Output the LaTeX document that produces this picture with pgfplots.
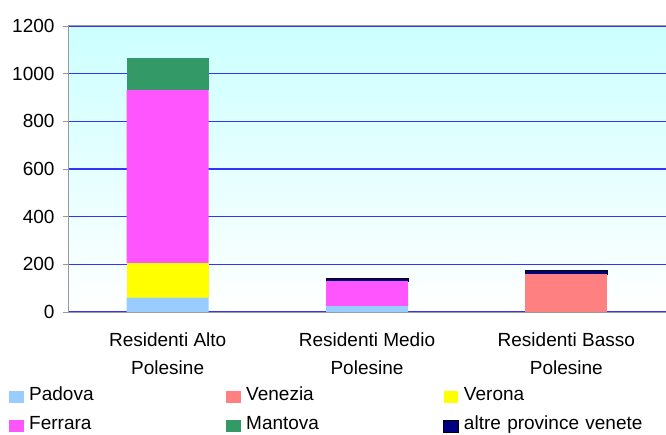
\documentclass[border=0pt]{standalone}
\usepackage{pgfplots}
\pgfplotsset{compat=1.18}
\usepackage{fontspec}
\setmainfont{Liberation Sans}
\definecolor{cPad}{HTML}{99CCFF}
\definecolor{cVen}{HTML}{FF8080}
\definecolor{cVer}{HTML}{FFFF00}
\definecolor{cFer}{HTML}{FF55FF}
\definecolor{cMan}{HTML}{339966}
\definecolor{cAlt}{HTML}{000080}
\definecolor{cGrid}{HTML}{3333FF}
\definecolor{cBgTop}{HTML}{CCFFFF}
\definecolor{cAxis}{HTML}{999999}
\begin{document}
\begin{tikzpicture}
\path[use as bounding box] (0,0) rectangle (666pt,434pt);
\begin{axis}[
  at={(68pt,122pt)}, anchor=south west,
  scale only axis, width=598pt, height=286pt,
  ybar stacked, bar width=82pt,
  xmin=-0.5, xmax=2.5, ymin=0, ymax=1200,
  xtick={0,1,2},
  xticklabels={{Residenti Alto\\Polesine},{Residenti Medio\\Polesine},{Residenti Basso\\Polesine}},
  xticklabel style={align=center, font=\fontsize{19}{28}\selectfont, yshift=-12pt},
  x tick style={draw=none},
  extra x ticks={-0.5,0.5,1.5,2.5},
  extra x tick labels={},
  extra x tick style={grid=none, tick style={draw=cAxis, line width=0.8pt}},
  ytick={0,200,...,1200},
  yticklabel style={font=\fontsize{19}{21}\selectfont, xshift=-5pt},
  /pgf/number format/assume math mode=true,
  /pgf/number format/1000 sep={},
  ymajorgrids, grid style={cGrid, line width=1.1pt},
  axis line style={cAxis, line width=1pt},
  y tick style={cAxis, line width=0.8pt},
  tick align=outside, major tick length=5pt,
  axis background/.style={top color=cBgTop, bottom color=white},
  every axis plot post/.append style={legend image code/.code={\fill[##1] (0pt,-8.5pt) rectangle (14.5pt,3.5pt);}},
  legend columns=3,
  legend cell align=left,
  legend style={at={(-0.0987,-0.255)}, anchor=north west, draw=none, fill=none,
    font=\fontsize{19}{21}\selectfont, inner sep=0pt,
    nodes={inner sep=2pt},
    /tikz/every even column/.append style={text width=195pt},
    /tikz/every odd column/.append style={column sep=3.5pt},
    row sep=9.5pt},
]
\addplot[fill=cPad, draw=none] coordinates {(0,60) (1,25) (2,0)};
\addplot[fill=cVen, draw=none] coordinates {(0,0) (1,0) (2,159)};
\addplot[fill=cVer, draw=none] coordinates {(0,145) (1,0) (2,0)};
\addplot[fill=cFer, draw=none] coordinates {(0,726) (1,105) (2,0)};
\addplot[fill=cMan, draw=none] coordinates {(0,133) (1,0) (2,0)};
\addplot[fill=cAlt, draw=black, line width=0.8pt] coordinates {(0,0) (1,12) (2,16)};
\legend{Padova,Venezia,Verona,Ferrara,Mantova,altre province venete}
\end{axis}
\end{tikzpicture}
\end{document}
